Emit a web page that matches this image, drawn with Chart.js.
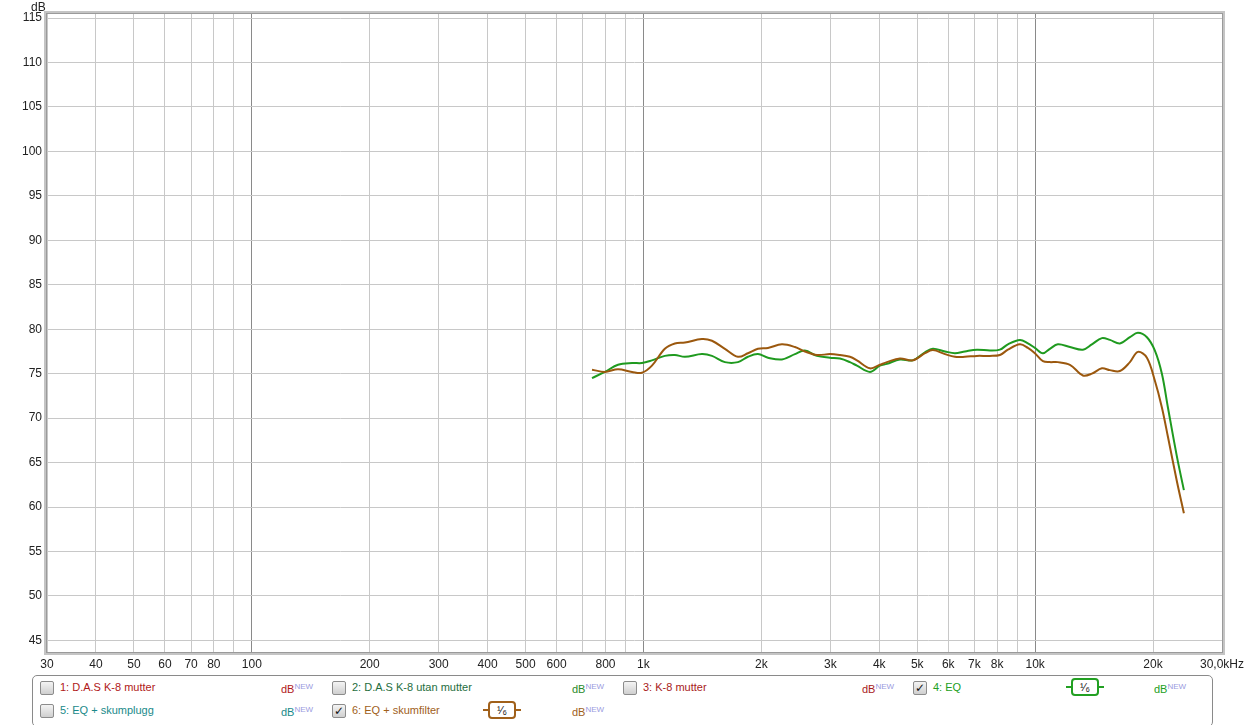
<!DOCTYPE html>
<html>
<head>
<meta charset="utf-8">
<script src="https://cdn.jsdelivr.net/npm/chart.js@4"></script>
<style>
  body { margin: 0; background: #fff; font-family: "Liberation Sans", Arial, sans-serif; }
  #wrap { position: absolute; left: 0; top: 0; width: 1245px; height: 680px; }
  #dbTitle { position: absolute; left: 31px; top: 0px; font-size: 12px; color: #222; }
  #legend { position: absolute; left: 32px; top: 675px; width: 1179px; height: 50px;
    border: 1px solid #8a8a8a; border-radius: 5px; background: #fff; font-size: 11px; }
  .item { position: absolute; white-space: nowrap; line-height: 14px; }
  .box { position: absolute; width: 12px; height: 12px; border: 1px solid #8c8c8c; border-radius: 2px;
    background: linear-gradient(#f4f4f4, #cfcfcf); font: bold 12px "DejaVu Sans"; line-height: 12px;
    text-align: center; color: #111; }
  .db sup { font-size: 8px; color: #9a9ae0; vertical-align: 4px; }
  .badge { position: absolute; width: 24px; height: 14px; border: 2px solid; border-radius: 4px;
    background: #fff; }
  .badge span { position: absolute; left: 0; right: 0; top: 0; text-align: center;
    font-size: 11px; line-height: 14px; color: #111; }
  .badge .side { position: absolute; top: 6px; width: 5px; height: 2px; }
</style>
</head>
<body>
<div id="wrap"><canvas id="fr"></canvas></div>
<div id="dbTitle">dB</div>
<div id="legend"></div>
<script>
// Data
var freqHz = [739, 797, 861, 935, 991, 1051, 1134, 1203, 1276, 1410, 1496, 1614, 1743, 1848, 1960,
  2079, 2257, 2436, 2583, 2773, 2993, 3174, 3366, 3508, 3786, 4015, 4184, 4516, 4875, 5232,
  5483, 5886, 6240, 6618, 7101, 7664, 8130, 8520, 9145, 9585, 9986, 10469, 10907, 11432, 12270,
  13243, 13960, 14807, 15520, 16460, 17458, 18296, 19293, 20220, 21070, 21830, 23010, 23980];

var eqDb = [74.5, 75.2, 76.0, 76.2, 76.2, 76.5, 77.0, 77.1, 76.9, 77.2, 77.0, 76.3, 76.3, 76.9, 77.2,
  76.8, 76.6, 77.2, 77.6, 77.0, 76.8, 76.7, 76.3, 75.9, 75.2, 75.9, 76.1, 76.6, 76.5, 77.4,
  77.8, 77.5, 77.3, 77.5, 77.7, 77.6, 77.7, 78.3, 78.8, 78.4, 77.9, 77.3, 77.8, 78.3, 78.0,
  77.7, 78.3, 79.0, 78.8, 78.4, 79.1, 79.6, 79.1, 77.6, 75.0, 71.2, 65.7, 61.9];

var skumfilterDb = [75.45, 75.2, 75.5, 75.2, 75.1, 75.9, 77.8, 78.4, 78.5, 78.9, 78.7, 77.8, 76.9, 77.3, 77.8,
  77.9, 78.3, 78.0, 77.5, 77.1, 77.2, 77.1, 76.9, 76.5, 75.6, 76.0, 76.3, 76.7, 76.5, 77.3,
  77.65, 77.2, 76.9, 76.9, 77.0, 77.0, 77.1, 77.7, 78.3, 77.9, 77.3, 76.4, 76.3, 76.3, 76.0,
  74.8, 75.0, 75.6, 75.4, 75.3, 76.3, 77.45, 76.8, 74.2, 71.2, 67.9, 62.9, 59.3];

var xTicks = [30, 40, 50, 60, 70, 80, 90, 100, 200, 300, 400, 500, 600, 700, 800, 900,
  1000, 2000, 3000, 4000, 5000, 6000, 7000, 8000, 9000, 10000, 20000, 30000];
var xTickLabels = ['30', '40', '50', '60', '70', '80', '', '100', '200', '300', '400', '500', '600', '', '800', '',
  '1k', '2k', '3k', '4k', '5k', '6k', '7k', '8k', '', '10k', '20k', '30,0kHz'];
var yTicks = [45, 50, 55, 60, 65, 70, 75, 80, 85, 90, 95, 100, 105, 110, 115];

var GREEN = '#1f9a1f';
var BROWN = '#9b580e';

function points(ys) {
  return freqHz.map(function(f, i) { return { x: f, y: ys[i] }; });
}

// Frame round the plot
var frame = {
  id: 'frame',
  afterDraw: function(chart) {
    var a = chart.chartArea, ctx = chart.ctx;
    ctx.save();
    ctx.strokeStyle = '#c4c4c4';
    ctx.lineWidth = 3;
    ctx.strokeRect(a.left - 1.5, a.top - 1.5, a.right - a.left + 3, a.bottom - a.top + 3);
    ctx.strokeStyle = '#9a9a9a';
    ctx.lineWidth = 1;
    ctx.strokeRect(a.left - 0.5, a.top - 0.5, a.right - a.left + 1, a.bottom - a.top + 1);
    ctx.restore();
  }
};

var fr = new Chart(document.getElementById('fr'), {
  type: 'line',
  data: {
    datasets: [{
      label: '6: EQ + skumfilter',
      data: points(skumfilterDb),
      borderColor: BROWN,
      borderWidth: 2,
      pointRadius: 0,
      tension: 0.35,
      fill: false
    }, {
      label: '4: EQ',
      data: points(eqDb),
      borderColor: GREEN,
      borderWidth: 2,
      pointRadius: 0,
      tension: 0.35,
      fill: false
    }]
  },
  options: {
    responsive: true,
    maintainAspectRatio: false,
    animation: false,
    layout: { padding: { top: 14, right: 23, bottom: 8, left: 0 } },
    plugins: { legend: { display: false }, tooltip: { enabled: false } },
    scales: {
      x: {
        type: 'logarithmic',
        min: 30,
        max: 30000,
        afterBuildTicks: function(s) { s.ticks = xTicks.map(function(v) { return { value: v }; }); },
        afterFit: function(s) { s.height = 20; s.paddingLeft = 0; s.paddingRight = 0; },
        ticks: {
          autoSkip: false,
          maxRotation: 0,
          padding: 5,
          color: '#222',
          font: { family: 'Liberation Sans', size: 12 },
          callback: function(v) { var i = xTicks.indexOf(v); return i < 0 ? '' : xTickLabels[i]; }
        },
        grid: {
          drawTicks: false,
          color: function(c) {
            var v = c.tick && c.tick.value;
            return (v === 100 || v === 1000 || v === 10000) ? '#8a8a8a' : '#c8c8c8';
          }
        },
        border: { display: false }
      },
      y: {
        min: 43.7,
        max: 115.45,
        afterBuildTicks: function(s) { s.ticks = yTicks.map(function(v) { return { value: v }; }); },
        afterFit: function(s) { s.width = 47; s.paddingTop = 0; s.paddingBottom = 0; },
        ticks: {
          padding: 5,
          color: '#222',
          font: { family: 'Liberation Sans', size: 12 }
        },
        grid: { drawTicks: false, color: '#c8c8c8' },
        border: { display: false }
      }
    }
  },
  plugins: [frame]
});

// Legend rows below the plot
var legendItems = [
  { x: 7, row: 0, text: '1: D.A.S K-8 mutter', color: '#b01818', checked: false, dbx: 248 },
  { x: 299, row: 0, text: '2: D.A.S K-8 utan mutter', color: '#1e6e3e', dbColor: '#2a8a2a', checked: false, dbx: 539 },
  { x: 590, row: 0, text: '3: K-8 mutter', color: '#a81a1a', checked: false, dbx: 829 },
  { x: 880, row: 0, text: '4: EQ', color: '#22a022', checked: true, dbx: 1121, badge: 1038 },
  { x: 7, row: 1, text: '5: EQ + skumplugg', color: '#1a8a8a', checked: false, dbx: 248 },
  { x: 299, row: 1, text: '6: EQ + skumfilter', color: '#a0601a', checked: true, dbx: 539, badge: 455 }
];
var legend = document.getElementById('legend');
legendItems.forEach(function(it) {
  var top = it.row === 0 ? 4 : 27;
  var box = document.createElement('div');
  box.className = 'box';
  box.style.left = it.x + 'px';
  box.style.top = (top + 1) + 'px';
  box.textContent = it.checked ? '\u2713' : '';
  legend.appendChild(box);

  var t = document.createElement('div');
  t.className = 'item';
  t.style.left = (it.x + 20) + 'px';
  t.style.top = top + 'px';
  t.style.color = it.color;
  t.textContent = it.text;
  legend.appendChild(t);

  var d = document.createElement('div');
  d.className = 'item db';
  d.style.left = it.dbx + 'px';
  d.style.top = top + 'px';
  d.style.color = it.dbColor || it.color;
  d.innerHTML = 'dB<sup>NEW</sup>';
  legend.appendChild(d);

  if (it.badge) {
    var b = document.createElement('div');
    b.className = 'badge';
    b.style.left = it.badge + 'px';
    b.style.top = (top - 2) + 'px';
    b.style.borderColor = it.color;
    b.innerHTML = '<span>\u00b9\u2044\u2086</span>' +
      '<div class="side" style="left:-7px;background:' + it.color + '"></div>' +
      '<div class="side" style="right:-7px;background:' + it.color + '"></div>';
    legend.appendChild(b);
  }
});
</script>
</body>
</html>
